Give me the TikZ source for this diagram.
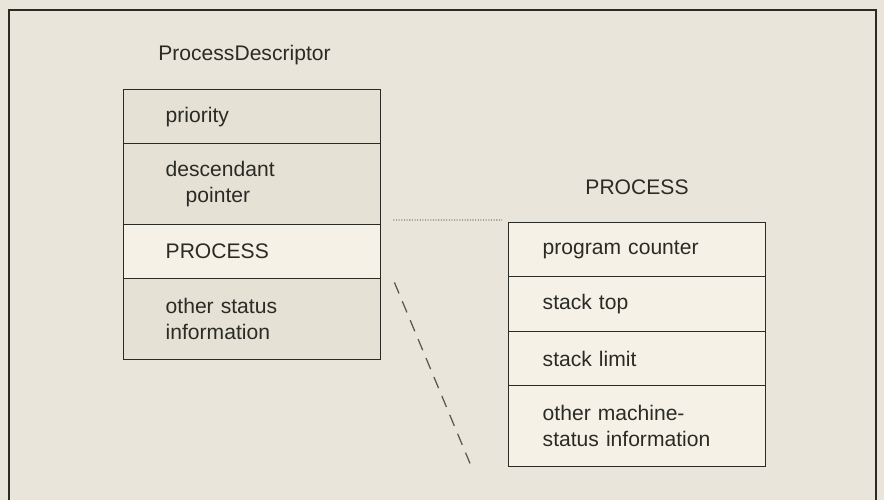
\documentclass[tikz,border=0pt]{standalone}
\usepackage{fontspec}
\setmainfont{Liberation Sans}
\usetikzlibrary{positioning}

\definecolor{paper}{HTML}{E9E5DA}
\definecolor{cellgray}{HTML}{E5E1D5}
\definecolor{celllight}{HTML}{F5F1E7}
\definecolor{ink}{HTML}{2B2B26}

\begin{document}
\begin{tikzpicture}[
    node distance=-0.8pt,
    cell/.style={rectangle, draw=ink, line width=0.8pt, fill=cellgray, minimum width=5.14cm,
        inner sep=0pt, align=left, text=ink, font=\fontsize{12}{15}\selectfont},
    leftcell/.style={cell, text width=3.46cm},
    rightcell/.style={cell, text width=3.78cm, fill=celllight},
    short/.style={minimum height=1.08cm},
    tall/.style={minimum height=1.62cm},
    title/.style={text=ink, font=\fontsize{12}{15}\selectfont}
]

\fill[paper] (0,0) rectangle (17.68,-10);
\useasboundingbox (0,0) rectangle (17.68,-10);
\draw[ink, line width=0.6pt] (0.18,-10) -- (0.18,-0.2) -- (17.52,-0.2) -- (17.52,-10);

% ProcessDescriptor
\node[title] (pdtitle) at (4.89,-1.1) {ProcessDescriptor};
\node[leftcell, short, anchor=north west] (prio) at (2.46,-1.78) {priority};
\node[leftcell, tall, below=of prio] (desc) {descendant\\\hspace*{0.4cm}pointer};
\node[leftcell, short, below=of desc, fill=celllight] (proc) {PROCESS};
\node[leftcell, tall, below=of proc] (other) {other status\\information};

% PROCESS
\node[title] (ptitle) at (12.74,-3.74) {PROCESS};
\node[rightcell, short, anchor=north west] (pcount) at (10.16,-4.44) {program counter};
\node[rightcell, minimum height=1.1cm, below=of pcount] (stop) {stack top};
\node[rightcell, short, below=of stop] (slimit) {stack limit};
\node[rightcell, tall, below=of slimit] (pother) {other machine-\\status information};

\draw[ink, line width=0.5pt, dash pattern=on 0.6pt off 0.9pt]
    ([xshift=0.24cm, yshift=0.08cm]proc.north east) -- ([xshift=-0.12cm, yshift=0.04cm]pcount.north west);
\draw[ink!80, line width=0.7pt, dash pattern=on 0.24cm off 0.17cm]
    ([xshift=0.26cm, yshift=-0.06cm]proc.south east) -- ([xshift=-0.76cm, yshift=0.08cm]pother.south west);
\end{tikzpicture}
\end{document}
